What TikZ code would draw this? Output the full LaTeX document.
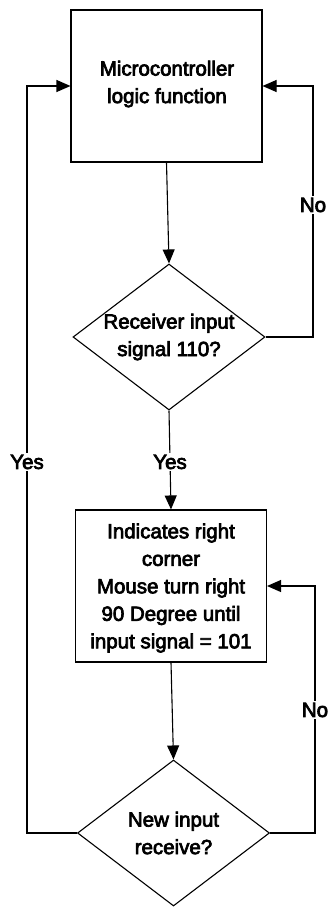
\documentclass[tikz,border=0pt]{standalone}
\usepackage{fontspec}
\setmainfont{Liberation Sans}
\newcommand{\heavytext}[1]{\special{pdf:literal direct q 2 Tr 0.7 w}#1\special{pdf:literal direct Q}}
\usetikzlibrary{shapes.geometric,arrows.meta}
\begin{document}
\begin{tikzpicture}[x=1pt,y=-1pt,
  line width=1.1pt,
  arr/.style={-{Triangle[length=14pt,width=12pt]}},
  procbox/.style={draw,rectangle,minimum width=191pt,minimum height=152pt,inner sep=0pt},
  decision/.style={draw,diamond,minimum width=192pt,minimum height=146pt,inner sep=0pt},
  txt/.style={align=center,font=\fontsize{20.5}{27.5}\selectfont,inner sep=0pt},
  lbl/.style={font=\fontsize{20.5}{24}\selectfont,fill=white,inner sep=2pt}]
\useasboundingbox (0,0) rectangle (331,908);
\node[procbox] (box1) at (166.5,86) {};
\node[txt] (t1) at (167,84) {\heavytext{Microcontroller}\\\heavytext{logic function}};
\node[decision] (d1) at (169,337) {};
\node[txt] (t2) at (d1) {\heavytext{Receiver input}\\\heavytext{signal 110?}};
\node[procbox] (box2) at (171,586) {};
\node[txt] (t3) at (171,588) {\heavytext{Indicates right}\\\heavytext{corner}\\\heavytext{Mouse turn right}\\\heavytext{90 Degree until}\\\heavytext{input signal = 101}};
\node[decision] (d2) at (173.5,833) {};
\node[txt] (t4) at (d2) {\heavytext{New input}\\\heavytext{receive?}};
\coordinate (r1) at (313,337);
\coordinate (r2) at (315,833);
\coordinate (l2) at (27,833);
\draw[arr] (box1.south) -- (d1.north);
\draw[arr] (d1.east) -- (r1) |- (box1.east);
\draw[arr] (d1.south) -- (box2.north);
\draw[arr] (box2.south) -- (d2.north);
\draw[arr] (d2.east) -- (r2) |- (box2.east);
\draw[arr] (d2.west) -- (l2) |- (box1.west);
\node[lbl] (no1) at (313,205) {\heavytext{No}};
\node[lbl] (yes1) at (27,462) {\heavytext{Yes}};
\node[lbl] (yes2) at (170,462) {\heavytext{Yes}};
\node[lbl] (no2) at (315,710) {\heavytext{No}};
\end{tikzpicture}
\end{document}
